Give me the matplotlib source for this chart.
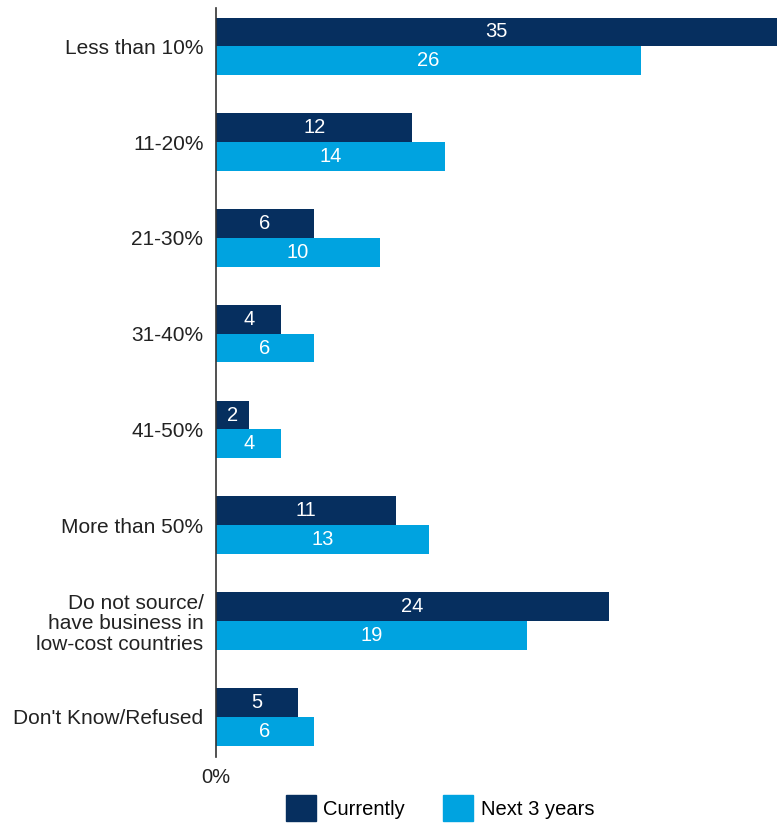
import matplotlib.pyplot as plt
from matplotlib.patches import Patch

plt.rcParams['font.family'] = ['Liberation Sans', 'DejaVu Sans']

categories = ['Less than 10%', '11-20%', '21-30%', '31-40%', '41-50%',
              'More than 50%', 'Do not source/\nhave business in\nlow-cost countries',
              "Don't Know/Refused"]
currently = [35, 12, 6, 4, 2, 11, 24, 5]
next3 = [26, 14, 10, 6, 4, 13, 19, 6]

DARK = '#062f5f'
LIGHT = '#00a3e0'
XMAX = 34.3
H = 0.30
FS = 14.5

fig = plt.figure(figsize=(7.77, 8.25), dpi=100)
ax = fig.add_axes([216/777, 1 - 757/825, 1 - 216/777, (757 - 8)/825])

ys = list(range(len(categories)))
ax.barh([y - H/2 for y in ys], currently, height=H, color=DARK)
ax.barh([y + H/2 for y in ys], next3, height=H, color=LIGHT)

for y, a, b in zip(ys, currently, next3):
    ax.text(min(a, XMAX)/2, y - H/2, str(a), color='white', ha='center',
            va='center', fontsize=FS)
    ax.text(min(b, XMAX)/2, y + H/2, str(b), color='white', ha='center',
            va='center', fontsize=FS)

ax.set_xlim(0, XMAX)
ax.set_ylim(7.42, -0.4)
ax.set_yticks(ys)
ax.set_yticklabels(categories, fontsize=15, color='#222222', linespacing=1.12)
ax.set_xticks([0])
ax.set_xticklabels(['0%'], fontsize=FS, color='#222222')
ax.tick_params(length=0)
ax.tick_params(axis='x', pad=8)
ax.tick_params(axis='y', pad=9)
for s in ['top', 'right', 'bottom']:
    ax.spines[s].set_visible(False)
ax.spines['left'].set_color('#333333')
ax.spines['left'].set_linewidth(1.2)

handles = [Patch(color=DARK, label='Currently'), Patch(color=LIGHT, label='Next 3 years')]
fig.legend(handles=handles, loc='center', bbox_to_anchor=(440/777, 1 - 808/825),
           ncol=2, frameon=False, fontsize=FS, handlelength=1.5, handleheight=1.55,
           columnspacing=1.9, handletextpad=0.35)

fig.savefig('out.png', dpi=100)
